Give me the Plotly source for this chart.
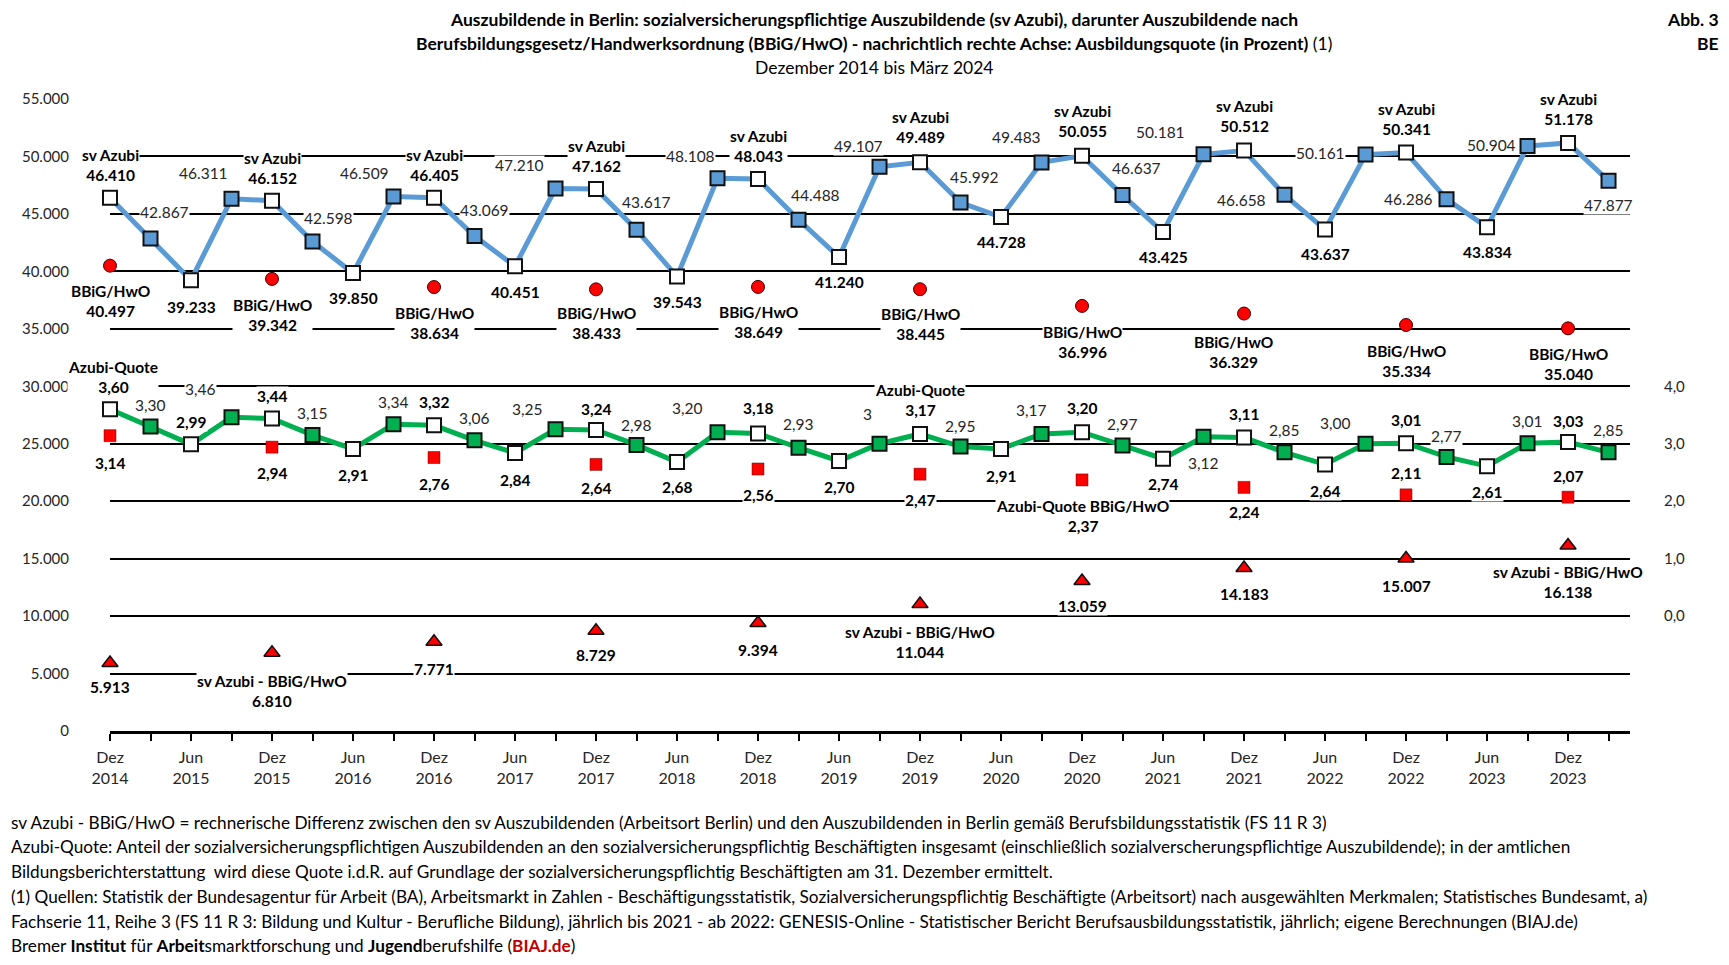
import plotly.graph_objects as go

# ---------------- data ----------------
periods = ["Dez 2014", "Mär 2015", "Jun 2015", "Sep 2015",
           "Dez 2015", "Mär 2016", "Jun 2016", "Sep 2016",
           "Dez 2016", "Mär 2017", "Jun 2017", "Sep 2017",
           "Dez 2017", "Mär 2018", "Jun 2018", "Sep 2018",
           "Dez 2018", "Mär 2019", "Jun 2019", "Sep 2019",
           "Dez 2019", "Mär 2020", "Jun 2020", "Sep 2020",
           "Dez 2020", "Mär 2021", "Jun 2021", "Sep 2021",
           "Dez 2021", "Mär 2022", "Jun 2022", "Sep 2022",
           "Dez 2022", "Mär 2023", "Jun 2023", "Sep 2023",
           "Dez 2023", "Mär 2024"]

sv_azubi = [46410, 42867, 39233, 46311, 46152, 42598, 39850, 46509,
            46405, 43069, 40451, 47210, 47162, 43617, 39543, 48108,
            48043, 44488, 41240, 49107, 49489, 45992, 44728, 49483,
            50055, 46637, 43425, 50181, 50512, 46658, 43637, 50161,
            50341, 46286, 43834, 50904, 51178, 47877]

azubi_quote = [3.60, 3.30, 2.99, 3.46, 3.44, 3.15, 2.91, 3.34,
               3.32, 3.06, 2.84, 3.25, 3.24, 2.98, 2.68, 3.20,
               3.18, 2.93, 2.70, 3.00, 3.17, 2.95, 2.91, 3.17,
               3.20, 2.97, 2.74, 3.12, 3.11, 2.85, 2.64, 3.00,
               3.01, 2.77, 2.61, 3.01, 3.03, 2.85]
quote_text_override = {"Sep 2019": "3"}

dez_periods = ["Dez 2014", "Dez 2015", "Dez 2016", "Dez 2017", "Dez 2018",
               "Dez 2019", "Dez 2020", "Dez 2021", "Dez 2022", "Dez 2023"]
bbig_hwo = [40497, 39342, 38634, 38433, 38649, 38445, 36996, 36329, 35334, 35040]
bbig_quote = [3.14, 2.94, 2.76, 2.64, 2.56, 2.47, 2.37, 2.24, 2.11, 2.07]
diff_sv_bbig = [5913, 6810, 7771, 8729, 9394, 11044, 13059, 14183, 15007, 16138]

y_ticks = [0, 5000, 10000, 15000, 20000, 25000, 30000, 35000, 40000, 45000, 50000, 55000]
y2_ticks = [0, 1, 2, 3, 4]

# label prefixes (text)
quote_prefix = {"Dez 2014": "Azubi-Quote", "Dez 2019": "Azubi-Quote"}
bbigq_prefix = {"Dez 2020": "Azubi-Quote BBiG/HwO"}
diff_prefix = {"Dez 2015": "sv Azubi - BBiG/HwO", "Dez 2019": "sv Azubi - BBiG/HwO",
               "Dez 2023": "sv Azubi - BBiG/HwO"}

# ---------------- label offsets (style, px; dy positive = downward) ----------------
blue_dx = [0, 14, 0, -28, 0, 16, 0, -29, 0, 10, 0, -36, 0, 10, 0, -27, 0, 17, 0, -21,
           0, 14, 0, -25, 0, 14, 0, -43, 0, -43, 0, -45, 0, -38, 0, -36, 0, 0]
blue_dy = [-33, -26, 27, -26, -33, -24, 25, -24, -33, -26, 26, -24, -33, -28, 25, -22,
           -33, -25, 25, -21, -35, -26, 25, -25, -35, -27, 25, -22, -35, 5, 24, -2,
           -34, 0, 25, -1, -34, 24]
quote_dx = [3, 0, 0, -31, 0, 0, 0, 0, 0, 0, 0, -28, 0, 0, 0, -30, 0, 0, 0, -12,
            0, 0, 0, -10, 0, 0, 0, 0, 0, 0, 0, -30, 0, 0, 0, 0, 0, 0]
quote_dy = [-32, -21, -22, -28, -22, -22, 26, -22, -23, -22, 27, -20, -21, -20, 25, -24,
            -25, -24, 26, -30, -34, -21, 27, -24, -24, -21, 25, 26, -23, -22, 27, -21,
            -23, -21, 26, -22, -21, -22]
bbig_dx = [0, 0, 0, 0, 0, 0, 0, -11, 0, 0]
bbig_dy = [35, 36, 36, 34, 35, 35, 36, 38, 36, 36]
bbigq_dy = [27, 26, 26, 24, 26, 26, 36, 25, -22, -21]
diff_dy = [24, 38, 27, 24, 27, 38, 25, 26, 27, 36]

# ---------------- helpers (page px -> figure; page body has an 8px margin) ----------------
OFF = 8
W, H = 1729 - 2 * OFF, 965 - 2 * OFF
L, R, T, B = 110 - OFF, 1630 - OFF, 99 - OFF, 731 - OFF


def pxx(x):
    return (x - OFF - L) / (R - L)


def pxy(y):
    return (B - (y - OFF)) / (B - T)


def de_int(v):
    return f"{v:,}".replace(",", ".")


def de_dec(v):
    return f"{v:.2f}".replace(".", ",")


x_all = list(range(len(periods)))
dez_x = [periods.index(p) for p in dez_periods]
is_main = [p.startswith("Dez") or p.startswith("Jun") for p in periods]

BLUE = "#5B9BD5"
GREEN = "#00B050"
RED = "#FF0000"
FONT = "Lato"

fig = go.Figure()

fig.add_trace(go.Scatter(
    x=x_all, y=sv_azubi, mode="lines+markers", yaxis="y", cliponaxis=False,
    line=dict(color=BLUE, width=5),
    marker=dict(symbol="square", size=14,
                color=["white" if m else BLUE for m in is_main],
                line=dict(color="#111111", width=2)),
    hoverinfo="skip", showlegend=False))

fig.add_trace(go.Scatter(
    x=x_all, y=azubi_quote, mode="lines+markers", yaxis="y2", cliponaxis=False,
    line=dict(color=GREEN, width=5),
    marker=dict(symbol="square", size=14,
                color=["white" if m else GREEN for m in is_main],
                line=dict(color="#111111", width=2)),
    hoverinfo="skip", showlegend=False))

fig.add_trace(go.Scatter(
    x=dez_x, y=bbig_hwo, mode="markers", yaxis="y", cliponaxis=False,
    marker=dict(symbol="circle", size=13, color=RED, line=dict(color="#400000", width=1)),
    hoverinfo="skip", showlegend=False))

fig.add_trace(go.Scatter(
    x=dez_x, y=bbig_quote, mode="markers", yaxis="y2", cliponaxis=False,
    marker=dict(symbol="square", size=12, color=RED, line=dict(color="#600000", width=0.5)),
    hoverinfo="skip", showlegend=False))

fig.add_trace(go.Scatter(
    x=dez_x, y=diff_sv_bbig, mode="markers", yaxis="y", cliponaxis=False,
    marker=dict(symbol="triangle-up", size=14, color=RED, line=dict(color="#111111", width=1.5)),
    hoverinfo="skip", showlegend=False))

ann = []


def label(x, y, yref, text, dx, dy, bold, size=15.5):
    t = f"<b>{text}</b>" if bold else text
    ann.append(dict(x=x, y=y, xref="x", yref=yref, text=t, showarrow=False,
                    xshift=dx, yshift=-dy, bgcolor="white", borderpad=0,
                    font=dict(family=FONT, size=size,
                              color="#000000" if bold else "#262626")))


for i, p in enumerate(periods):
    txt = de_int(sv_azubi[i])
    if p.startswith("Dez"):
        txt = "sv Azubi<br>" + txt
    label(i, sv_azubi[i], "y", txt, blue_dx[i], blue_dy[i], is_main[i])

    qt = quote_text_override.get(p, de_dec(azubi_quote[i]))
    if p in quote_prefix:
        qt = quote_prefix[p] + "<br>" + qt
    label(i, azubi_quote[i], "y2", qt, quote_dx[i], quote_dy[i], is_main[i])

for k, p in enumerate(dez_periods):
    xi = dez_x[k]
    label(xi, bbig_hwo[k], "y", "BBiG/HwO<br>" + de_int(bbig_hwo[k]), bbig_dx[k], bbig_dy[k], True)
    t = de_dec(bbig_quote[k])
    if p in bbigq_prefix:
        t = bbigq_prefix[p] + "<br>" + t
    label(xi, bbig_quote[k], "y2", t, 0, bbigq_dy[k], True)
    t = de_int(diff_sv_bbig[k])
    if p in diff_prefix:
        t = diff_prefix[p] + "<br>" + t
    label(xi, diff_sv_bbig[k], "y", t, 0, diff_dy[k], True)

# ---------------- titles ----------------
title_lines = [
    ("<b>Auszubildende in Berlin: sozialversicherungspflichtige Auszubildende (sv Azubi), darunter Auszubildende nach</b>", 19),
    ("<b>Berufsbildungsgesetz/Handwerksordnung (BBiG/HwO) - nachrichtlich rechte Achse: Ausbildungsquote (in Prozent)</b> (1)", 44),
    ("Dezember 2014 bis März 2024", 68),
]
for t, yy in title_lines:
    ann.append(dict(x=pxx(874), y=pxy(yy), xref="paper", yref="paper", text=t,
                    showarrow=False, xanchor="center", yanchor="middle",
                    font=dict(family=FONT, size=17.5, color="#000000")))
for t, yy in [("<b>Abb. 3</b>", 19), ("<b>BE</b>", 44)]:
    ann.append(dict(x=pxx(1721), y=pxy(yy), xref="paper", yref="paper", text=t,
                    showarrow=False, xanchor="right", yanchor="middle",
                    font=dict(family=FONT, size=17.5, color="#000000")))

footnotes = [
    "sv Azubi - BBiG/HwO = rechnerische Differenz zwischen den sv Auszubildenden (Arbeitsort Berlin) und den Auszubildenden in Berlin gemäß Berufsbildungsstatistik (FS 11 R 3)",
    "Azubi-Quote: Anteil der sozialversicherungspflichtigen Auszubildenden an den sozialversicherungspflichtig Beschäftigten insgesamt (einschließlich sozialverscherungspflichtige Auszubildende); in der amtlichen",
    "Bildungsberichterstattung  wird diese Quote i.d.R. auf Grundlage der sozialversicherungspflichtig Beschäftigten am 31. Dezember ermittelt.",
    "(1) Quellen: Statistik der Bundesagentur für Arbeit (BA), Arbeitsmarkt in Zahlen - Beschäftigungsstatistik, Sozialversicherungspflichtig Beschäftigte (Arbeitsort) nach ausgewählten Merkmalen; Statistisches Bundesamt, a)",
    "Fachserie 11, Reihe 3 (FS 11 R 3: Bildung und Kultur - Berufliche Bildung), jährlich bis 2021 - ab 2022: GENESIS-Online - Statistischer Bericht Berufsausbildungsstatistik, jährlich; eigene Berechnungen (BIAJ.de)",
    "Bremer <b>Institut</b> für <b>Arbeit</b>smarktforschung und <b>Jugend</b>berufshilfe (<b><span style='color:#C00000'>BIAJ.de</span></b>)",
]
foot_y = [822, 846, 871, 896, 921, 945]
for t, yy in zip(footnotes, foot_y):
    ann.append(dict(x=pxx(9), y=pxy(yy), xref="paper", yref="paper", text=t,
                    showarrow=False, xanchor="left", yanchor="middle",
                    font=dict(family=FONT, size=17.2, color="#000000")))

tick_text = [p.replace(" ", "<br>") if m else "" for p, m in zip(periods, is_main)]

fig.update_layout(
    width=W, height=H,
    margin=dict(l=L, r=W - R, t=T, b=H - B, pad=0),
    paper_bgcolor="white", plot_bgcolor="white",
    font=dict(family=FONT, size=15, color="#262626"),
    annotations=ann,
    xaxis=dict(range=[0, 37.53], tickmode="array", tickvals=x_all, ticktext=tick_text,
               ticks="outside", ticklen=7, tickwidth=2, tickcolor="black",
               showline=True, linewidth=3, linecolor="black", showgrid=False,
               zeroline=False, ticklabelstandoff=3,
               tickfont=dict(family=FONT, size=16, color="#262626")),
    yaxis=dict(range=[0, 55000], tickmode="array", tickvals=y_ticks,
               ticktext=[de_int(v) for v in y_ticks], showgrid=True,
               gridcolor="black", gridwidth=2, zeroline=False, showline=False,
               ticks="", ticklabelstandoff=40,
               tickfont=dict(family=FONT, size=15, color="#262626")),
    yaxis2=dict(range=[-2, 9], overlaying="y", side="right", tickmode="array",
                tickvals=y2_ticks, ticktext=[f"{v},0" for v in y2_ticks],
                showgrid=False, zeroline=False, showline=False, ticks="",
                ticklabelstandoff=33,
                tickfont=dict(family=FONT, size=15, color="#262626")),
)

fig.write_html("out.html")
